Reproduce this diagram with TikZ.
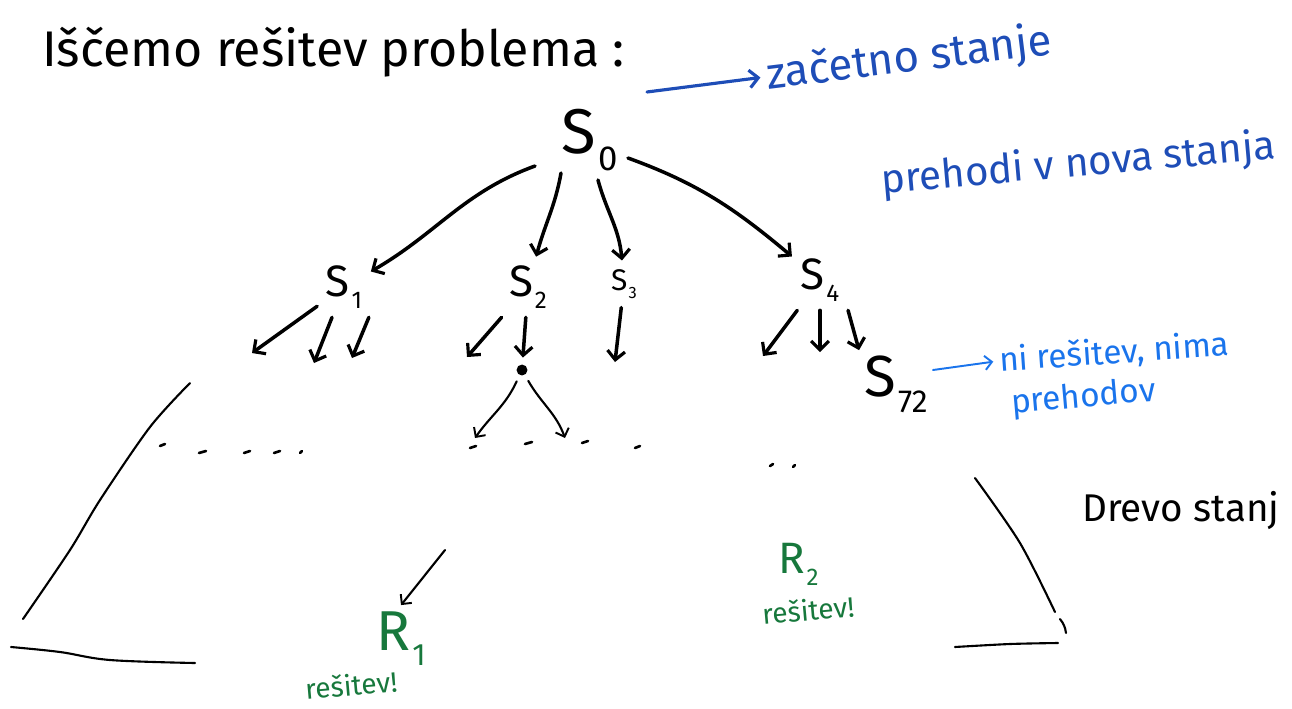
\documentclass[tikz,border=0pt]{standalone}
\usepackage{fontspec}
\setmainfont{Fira Sans}
\usetikzlibrary{arrows.meta}
\definecolor{penblue}{HTML}{1E4DB7}
\definecolor{skyblue}{HTML}{1A74EC}
\definecolor{pengreen}{HTML}{17783C}
\newcommand{\fs}[1]{\fontsize{#1}{#1}\selectfont}
% small index set low beside a letter
\newcommand{\low}[1]{\kern0.04em\raisebox{-0.28em}{\scalebox{0.55}{#1}}}

\begin{document}
\begin{tikzpicture}[x=0.02cm,y=-0.02cm,
  state/.style={inner sep=0pt,outer sep=5pt,text=black},
  big/.style={font=\fs{36}},
  mid/.style={font=\fs{25}},
  small/.style={font=\fs{17}},
  barb/.tip={Straight Barb[length=5pt,width=10pt,line width=1.8pt]},
  thinbarb/.tip={Straight Barb[length=4pt,width=8pt,line width=1.1pt]},
  edge/.style={draw=black,line width=2pt,line cap=round,-barb},
  thinedge/.style={draw=black,line width=1.2pt,line cap=round,-thinbarb},
  frame/.style={draw=black,line width=1.2pt,line cap=round},
  tick/.style={draw=black,line width=1.5pt,line cap=round},
  bluenote/.style={text=penblue,anchor=base west},
  skynote/.style={text=skyblue,anchor=base west,font=\fs{19}},
  greennote/.style={text=pengreen,anchor=base west}]
\useasboundingbox (0,0) rectangle (1292,708);

% heading
\node[anchor=base west,font=\fs{28.5}] (title) at (36,66) {Iščemo rešitev problema :};

% states
\node[state,big]   (s0)  at (590,140) {S\low{0}};
\node[state,mid]   (s1)  at (344,287) {S\low{1}};
\node[state,mid]   (s2)  at (528,287) {S\low{2}};
\node[state,small] (s3)  at (624,284) {S\low{3}};
\node[state,mid]   (s4)  at (820,280) {S\low{4}};
\node[state,font=\fs{33},outer sep=3pt] (s72) at (896,384) {S\low{72}};
\node[circle,fill=black,inner sep=2.2pt,outer sep=4pt] (mid) at (522,370) {};

% notes
\node[bluenote,font=\fs{25},rotate=7] (zac) at (762,90) {začetno stanje};
\node[bluenote,font=\fs{23},rotate=5] (preh) at (876,194) {prehodi v nova stanja};
\node[skynote,rotate=4] (ni) at (994,372) {ni rešitev, nima};
\node[skynote,rotate=5] (nip) at (1006,414) {prehodov};
\node[anchor=base west,font=\fs{22}] (drevo) at (1076,521) {Drevo stanj};

% solutions
\node[greennote,font=\fs{32}] (r1) at (370,650) {R\low{1}};
\node[greennote,font=\fs{16},rotate=5] (r1t) at (300,700) {rešitev!};
\node[greennote,font=\fs{25}] (r2) at (772,573) {R\low{2}};
\node[greennote,font=\fs{16},rotate=5] (r2t) at (757,625) {rešitev!};

% open ends of the transitions
\coordinate (a1) at (252,353);
\coordinate (a2) at (314,363);
\coordinate (a3) at (352,358);
\coordinate (b1) at (467,357);
\coordinate (c1) at (615,362);
\coordinate (d1) at (763,356);
\coordinate (d2) at (820,352);
\coordinate (m1) at (475,438);
\coordinate (m2) at (565,438);
\coordinate (rq) at (445,550);

% first level
\draw[edge] (s0) ++(-55,26) to[out=200,in=30] (s1);
\draw[edge] (s0) ++(-29,33) to[out=-100,in=75] (s2);
\draw[edge] (s0) ++(8,40) to[out=-75,in=95] (s3);
\draw[edge] (s0) ++(38,18) to[out=-20,in=140] (s4);

% second level
\draw[edge] (s1) -- (a1);
\draw[edge] (s1) -- (a2);
\draw[edge] (s1.south east) ++(-2,0) -- (a3);
\draw[edge] (s2) -- (b1);
\draw[edge] (s2) -- (mid);
\draw[edge] (s3) -- (c1);
\draw[edge] (s4) -- (d1);
\draw[edge] (s4) -- (d2);
\draw[edge] (s4.south east) -- (s72.north west);

% third level
\draw[thinedge] (mid) to[out=-115,in=55] (m1);
\draw[thinedge] (mid) to[out=-60,in=110] (m2);
\draw[thinedge] (rq) -- (r1.north);

% remarks
\draw[draw=penblue,line width=1.8pt,line cap=round,-barb] (s0.north east) ++(20,-8) -- (zac.west);
\draw[draw=skyblue,line width=1.1pt,line cap=round,-thinbarb] (s72.east) ++(0,-14) -- (ni.west);

% dotted frontier
\foreach \x/\y/\l in {160/446/5,199/453/7,244/453/6,274/453/6,300/453/2,
                      470/448/6,525/444/7,582/443/6,635/448/5,
                      770/466/3,793/467/2}
  \draw[tick] (\x,\y) -- ++(\l,-2);

% outline of the tree
\draw[frame] plot[smooth] coordinates {(190,383) (150,427) (100,500) (70,550) (23,619)};
\draw[frame] plot[smooth,tension=0.6] coordinates {(11,647) (60,652) (110,660) (195,663)};
\draw[frame] plot[smooth] coordinates {(975,478) (1020,543) (1055,612)};
\draw[frame] (1060,619) to[bend left=15] (1066,633);
\draw[frame] plot[smooth] coordinates {(955,647) (1010,644) (1058,643)};
\end{tikzpicture}
\end{document}
